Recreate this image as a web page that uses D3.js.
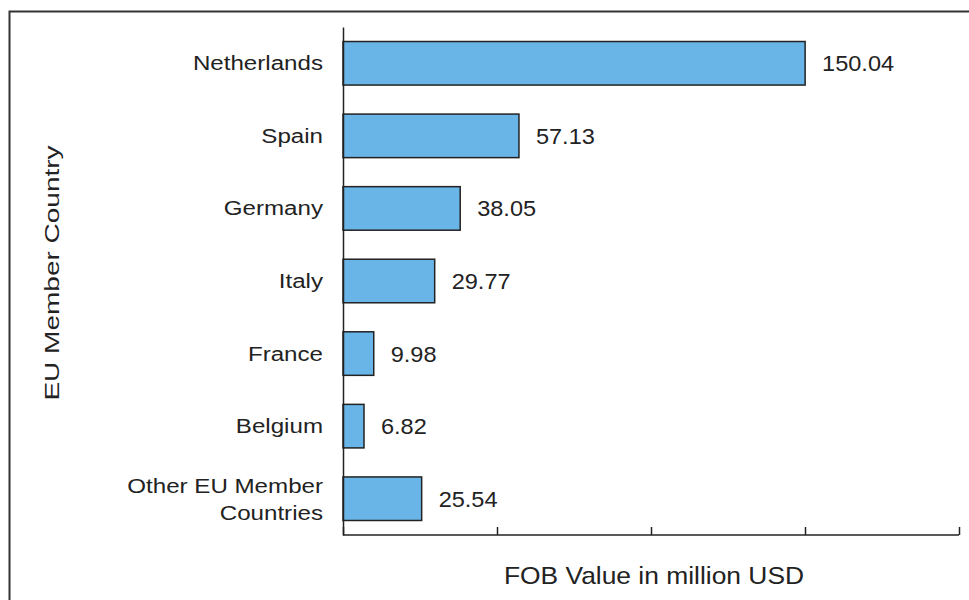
<!DOCTYPE html>
<html><head><meta charset="utf-8">
<script src="https://cdn.jsdelivr.net/npm/d3@7"></script>
<style>body{margin:0;background:#fff;}svg{display:block;font-family:"Liberation Sans",Arial,sans-serif;}</style>
</head><body>
<script>
const categories = ["Netherlands","Spain","Germany","Italy","France","Belgium","Other EU Member Countries"];
const values = [150.04, 57.13, 38.05, 29.77, 9.98, 6.82, 25.54];
const valueLabels = ["150.04","57.13","38.05","29.77","9.98","6.82","25.54"];
const xTicks = [0, 50, 100, 150, 200];

const W = 969, H = 600;
const svg = d3.select("body").append("svg").attr("width", W).attr("height", H);

// outer frame (cropped at right/bottom)
svg.append("path").attr("d", "M9.5,610 V11.5 H980").attr("fill","none").attr("stroke","#333").attr("stroke-width",2);

const x = d3.scaleLinear().domain([0, 200]).range([343, 959]);
const y = d3.scaleBand().domain(categories).range([27, 535]).paddingInner(0.4).paddingOuter(0.2);

// bars
svg.selectAll("rect.bar").data(categories).enter().append("rect")
  .attr("x", x(0)).attr("y", d => y(d))
  .attr("width", (d,i) => x(values[i]) - x(0))
  .attr("height", y.bandwidth())
  .attr("fill", "#6ab5e8").attr("stroke", "#222").attr("stroke-width", 1.5);

// value labels
svg.selectAll("text.val").data(categories).enter().append("text")
  .attr("transform", (d,i) => `translate(${x(values[i]) + 17},${y(d) + y.bandwidth()/2 + 8}) scale(1.07,1)`)
  .attr("font-size", 22).attr("fill", "#222")
  .text((d,i) => valueLabels[i]);

// y axis
const yAxis = svg.append("g").attr("transform", `translate(${x(0)},0)`)
  .call(d3.axisLeft(y).tickSize(0).tickPadding(19));
yAxis.select(".domain").attr("stroke","#222").attr("stroke-width",1.5);
yAxis.selectAll(".tick text")
  .attr("x", 0).attr("dy", null).attr("y", 7)
  .attr("transform", "translate(-20,0) scale(1.15,1)")
  .attr("font-size", 21).attr("fill", "#222").attr("font-family", "Liberation Sans, Arial, sans-serif")
  .each(function(d){
    const t = d3.select(this);
    if (d === "Other EU Member Countries") {
      t.text(null).attr("y", null);
      t.append("tspan").attr("x", 0).attr("y", -5.5).text("Other EU Member");
      t.append("tspan").attr("x", 0).attr("y", 21.5).text("Countries");
    }
  });

// x axis
const xAxis = svg.append("g").attr("transform", `translate(0,535)`)
  .call(d3.axisBottom(x).tickValues(xTicks).tickSize(-8).tickFormat(""));
xAxis.select(".domain").attr("stroke","#222").attr("stroke-width",1.5).attr("d", `M${x(0)},0H${x(200)}`);
xAxis.selectAll(".tick line").attr("stroke","#222").attr("stroke-width",1.5);

// axis titles
svg.append("text").attr("transform", "translate(654,584) scale(1.1,1)").attr("text-anchor","middle")
  .attr("font-size", 24).attr("fill","#222").text("FOB Value in million USD");
svg.append("text").attr("transform", "translate(59,273) rotate(-90) scale(1.4,1)").attr("text-anchor","middle")
  .attr("font-size", 20).attr("fill","#222").text("EU Member Country");
</script>
</body></html>
